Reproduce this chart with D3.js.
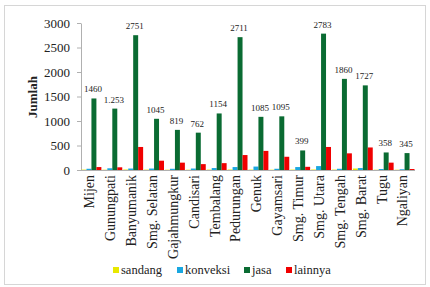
<!DOCTYPE html>
<html>
<head>
<meta charset="utf-8">
<script src="https://cdn.jsdelivr.net/npm/d3@7"></script>
<style>
  body { margin: 0; background: #fff; }
</style>
</head>
<body>
<svg id="chart" width="430" height="287" font-family="'Liberation Serif', 'Times New Roman', serif"></svg>
<script>
// kecamatan
var categories = ['Mijen', 'Gunungpati', 'Banyumanik', 'Smg. Selatan', 'Gajahmungkur', 'Candisari',
    'Tembalang', 'Pedurungan', 'Genuk', 'Gayamsari', 'Smg. Timur', 'Smg. Utara', 'Smg. Tengah',
    'Smg. Barat', 'Tugu', 'Ngaliyan'];

var seriesNames = ['sandang', 'konveksi', 'jasa', 'lainnya'];

var sandang = [8, 6, 10, 8, 6, 6, 8, 10, 8, 6, 8, 10, 8, 30, 6, 6];
var konveksi = [25, 35, 30, 30, 25, 30, 40, 60, 70, 25, 60, 80, 25, 40, 20, 15];
var jasa = [1460, 1253, 2751, 1045, 819, 762, 1154, 2711, 1085, 1095, 399, 2783, 1860, 1727, 358, 345];
var lainnya = [60, 55, 470, 190, 150, 120, 140, 305, 390, 270, 65, 470, 340, 460, 150, 20];

// labels as printed above the jasa bars
var jasaLabels = ['1460', '1.253', '2751', '1045', '819', '762', '1154', '2711', '1085', '1095',
    '399', '2783', '1860', '1727', '358', '345'];

var yTicks = [0, 500, 1000, 1500, 2000, 2500, 3000];
var colors = ['#e8e800', '#1aa7e0', '#0a6b32', '#f00000'];

var serif = "'Liberation Serif', 'Times New Roman', serif";
var svg = d3.select('#chart');

svg.append('rect')
    .attr('x', 4.5).attr('y', 5.5)
    .attr('width', 421).attr('height', 279)
    .attr('fill', 'none')
    .attr('stroke', '#d6d6d6');

var plot = { left: 81, right: 415, top: 23, bottom: 170 };

var x0 = d3.scaleBand()
    .domain(categories)
    .range([plot.left, plot.right])
    .paddingInner(0)
    .paddingOuter(0);

var x1 = d3.scaleBand()
    .domain(seriesNames)
    .range([0.5, x0.bandwidth() - 0.5]);

var y = d3.scaleLinear()
    .domain([0, 3000])
    .range([plot.bottom, plot.top]);

var seriesData = [sandang, konveksi, jasa, lainnya];

// y axis
var yAxis = svg.append('g')
    .attr('transform', 'translate(' + plot.left + ',0)')
    .call(d3.axisLeft(y).tickValues(yTicks).tickFormat(d3.format('d'))
        .tickSize(4).tickPadding(7).tickSizeOuter(0));
yAxis.attr('font-family', serif).attr('font-size', 13);
yAxis.select('.domain').attr('stroke', '#b0b0b0');
yAxis.selectAll('.tick line').attr('stroke', '#b0b0b0');
yAxis.selectAll('.tick text').attr('fill', '#222');

// x axis line
svg.append('line')
    .attr('x1', plot.left).attr('x2', plot.right)
    .attr('y1', plot.bottom + 0.5).attr('y2', plot.bottom + 0.5)
    .attr('stroke', '#b0b0b0');

// bars
seriesData.forEach(function (vals, si) {
    svg.append('g').selectAll('rect')
        .data(vals)
        .enter().append('rect')
        .attr('x', function (d, i) { return x0(categories[i]) + x1(seriesNames[si]); })
        .attr('y', function (d) { return y(d); })
        .attr('width', x1.bandwidth())
        .attr('height', function (d) { return y(0) - y(d); })
        .attr('fill', colors[si]);
});

// value labels above jasa
svg.append('g').selectAll('text')
    .data(jasa)
    .enter().append('text')
    .attr('x', function (d, i) { return x0(categories[i]) + x1('jasa') + x1.bandwidth() / 2 - 1; })
    .attr('y', function (d) { return y(d) - 6; })
    .attr('text-anchor', 'middle')
    .attr('font-family', serif)
    .attr('font-size', 9)
    .attr('fill', '#222')
    .text(function (d, i) { return jasaLabels[i]; });

// category labels
svg.append('g').selectAll('text')
    .data(categories)
    .enter().append('text')
    .attr('transform', function (d) {
        var cx = x0(d) + x0.bandwidth() / 2 - 2;
        return 'translate(' + cx + ',' + (plot.bottom + 5) + ') rotate(-90)';
    })
    .attr('text-anchor', 'end')
    .attr('dy', '0.35em')
    .attr('font-family', serif)
    .attr('font-size', 14)
    .attr('fill', '#222')
    .text(function (d) { return d; });

// y title
svg.append('text')
    .attr('transform', 'translate(37,97) rotate(-90)')
    .attr('text-anchor', 'middle')
    .attr('font-family', serif)
    .attr('font-size', 13)
    .attr('font-weight', 'bold')
    .attr('fill', '#222')
    .text('Jumlah');

// legend
var legendX = [113, 177, 244, 286];
var legend = svg.append('g').selectAll('g')
    .data(seriesNames)
    .enter().append('g')
    .attr('transform', function (d, i) { return 'translate(' + legendX[i] + ',270)'; });
legend.append('rect')
    .attr('x', 0).attr('y', -3)
    .attr('width', 6).attr('height', 6)
    .attr('fill', function (d, i) { return colors[i]; });
legend.append('text')
    .attr('x', 8).attr('y', 0)
    .attr('dy', '0.35em')
    .attr('font-family', serif)
    .attr('font-size', 12.5)
    .attr('fill', '#222')
    .text(function (d) { return d; });
</script>
</body>
</html>
